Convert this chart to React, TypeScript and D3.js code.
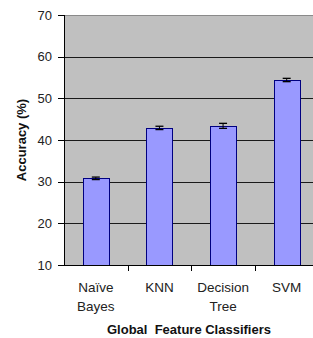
import React from "react";
import * as d3 from "d3";

const categories: string[][] = [["Naïve", "Bayes"], ["KNN"], ["Decision", "Tree"], ["SVM"]];
const accuracy = [30.8, 42.9, 43.4, 54.4];
const errors = [0.3, 0.4, 0.6, 0.4];
const yTicks = [10, 20, 30, 40, 50, 60, 70];

const W = 313, H = 338;
const left = 64, right = 318.5, top = 15, bottom = 265;

export default function App() {
  const keys = categories.map((c) => c.join(" "));
  const x = d3.scaleBand<string>().domain(keys).range([left, right]).paddingInner(0.59).paddingOuter(0.295);
  const xb = d3.scaleBand<string>().domain(keys).range([left, right]);
  const y = d3.scaleLinear().domain([10, 70]).range([bottom, top]);
  const font = "'Liberation Sans', Arial, sans-serif";
  return (
    <svg width={W} height={H} style={{ position: "absolute", left: 0, top: 0, background: "#fff" }}>
      <rect x={left} y={top} width={W - left} height={bottom - top} fill="#c0c0c0" />
      {yTicks.slice(1).map((t) => (
        <line key={t} x1={left} x2={W} y1={Math.round(y(t)) + 0.5} y2={Math.round(y(t)) + 0.5}
          stroke={t === 70 ? "#8a8a8a" : "#1a1a1a"} strokeWidth={1} />
      ))}
      {accuracy.map((v, i) => {
        const k = keys[i];
        const bx = x(k)!;
        const bw = x.bandwidth();
        const cx = bx + bw / 2;
        return (
          <g key={k}>
            <rect x={Math.round(bx) + 0.5} y={Math.round(y(v)) + 0.5} width={Math.round(bw)}
              height={Math.round(bottom - y(v))} fill="#9999ff" stroke="#000080" strokeWidth={1} />
            <line x1={cx} x2={cx} y1={y(v + errors[i])} y2={y(v - errors[i])} stroke="#000" strokeWidth={1} />
            <line x1={cx - 4} x2={cx + 4} y1={y(v + errors[i])} y2={y(v + errors[i])} stroke="#000" strokeWidth={1.3} />
            <line x1={cx - 4} x2={cx + 4} y1={y(v - errors[i])} y2={y(v - errors[i])} stroke="#000" strokeWidth={1.3} />
          </g>
        );
      })}
      <line x1={left + 0.5} x2={left + 0.5} y1={top} y2={bottom} stroke="#000" />
      <line x1={left} x2={W} y1={bottom + 0.5} y2={bottom + 0.5} stroke="#000" />
      {yTicks.map((t) => (
        <g key={t}>
          <line x1={left - 6} x2={left} y1={Math.round(y(t)) + 0.5} y2={Math.round(y(t)) + 0.5} stroke="#000" />
          <text x={52} y={y(t)} dy="0.36em" textAnchor="end" fontFamily={font} fontSize={13} fill="#222">{t}</text>
        </g>
      ))}
      {keys.slice(1).map((k) => (
        <line key={k} x1={Math.round(xb(k)!) + 0.5} x2={Math.round(xb(k)!) + 0.5} y1={bottom} y2={bottom + 6} stroke="#000" />
      ))}
      {categories.map((lines, i) => {
        const cx = x(keys[i])! + x.bandwidth() / 2;
        return (
          <text key={keys[i]} x={cx} textAnchor="middle" fontFamily={font} fontSize={13.5} fill="#222">
            {lines.map((l, j) => (
              <tspan key={j} x={cx} y={292 + j * 19}>{l}</tspan>
            ))}
          </text>
        );
      })}
      <text x={189} y={334} textAnchor="middle" fontFamily={font} fontSize={13} fontWeight="bold" fill="#111" style={{ whiteSpace: "pre" }}>
        Global  Feature Classifiers
      </text>
      <text transform="translate(26,140) rotate(-90)" textAnchor="middle" fontFamily={font} fontSize={13} fontWeight="bold" fill="#111">
        Accuracy (%)
      </text>
    </svg>
  );
}
